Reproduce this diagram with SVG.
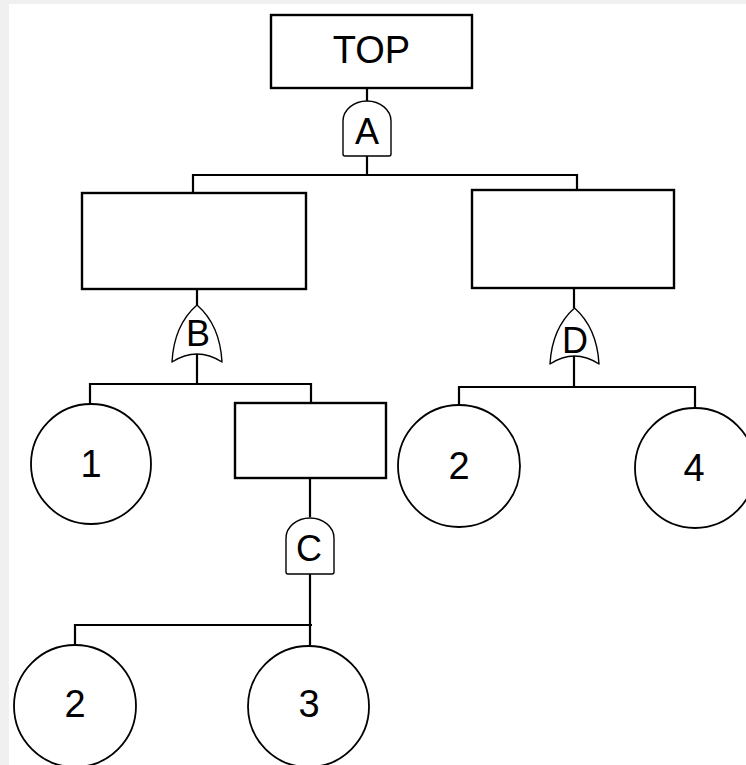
<svg xmlns="http://www.w3.org/2000/svg" width="746" height="765" viewBox="0 0 746 765">
  <style>
    .box { fill: #ffffff; stroke: #000000; stroke-width: 2.4; }
    .evt { fill: #ffffff; stroke: #000000; stroke-width: 1.8; }
    .gate { fill: #ffffff; stroke: #000000; stroke-width: 1.4; stroke-linejoin: round; }
    .wire { fill: none; stroke: #000000; stroke-width: 2.2; }
    .lbl { font-family: "Liberation Sans", Arial, sans-serif; font-size: 38px; fill: #000000; text-anchor: middle; }
    .glbl { font-family: "Liberation Sans", Arial, sans-serif; font-size: 36px; fill: #000000; text-anchor: middle; }
  </style>

  <!-- page background -->
  <rect x="0" y="0" width="746" height="765" fill="#f0f0f0"/>
  <rect x="9" y="4" width="737" height="761" fill="#ffffff"/>

  <!-- connectors -->
  <g id="connectors" class="wire">
    <path d="M367,88 V101"/>
    <path d="M367,156 V175"/>
    <path d="M193,192 V175 H577 V190"/>
    <path d="M197,289 V305"/>
    <path d="M197,354 V384"/>
    <path d="M90,404 V384 H311 V403"/>
    <path d="M574,288 V308"/>
    <path d="M574,356 V387"/>
    <path d="M459,406 V387 H695 V408"/>
    <path d="M310,478 V517"/>
    <path d="M310,574 V625"/>
    <path d="M75,645 V625 H312"/>
    <path d="M310,625 V646"/>
  </g>

  <!-- top event -->
  <g id="top">
    <rect class="box" x="271" y="15" width="201" height="73"/>
    <text class="lbl" x="371.5" y="63">TOP</text>
  </g>

  <!-- AND gate A -->
  <g id="gateA">
    <path class="gate" d="M343,154 V121 A24 20 0 0 1 391,121 V154 Q391,156 389,156 H345 Q343,156 343,154 Z"/>
    <text class="glbl" x="367" y="144">A</text>
  </g>

  <!-- intermediate events -->
  <g id="eventLeft">
    <rect class="box" x="82" y="193" width="224" height="96"/>
  </g>
  <g id="eventRight">
    <rect class="box" x="472" y="190" width="202" height="98"/>
  </g>

  <!-- OR gate B -->
  <g id="gateB">
    <path class="gate" d="M197,305 Q174,325 172,362 Q197,346 222,362 Q220,325 197,305 Z"/>
    <text class="glbl" x="198" y="346">B</text>
  </g>

  <!-- OR gate D -->
  <g id="gateD">
    <path class="gate" d="M574.5,308 Q552,328 550,364 Q574.5,348 599,364 Q597,328 574.5,308 Z"/>
    <text class="glbl" x="575" y="353">D</text>
  </g>

  <!-- basic events, second level -->
  <g id="event1">
    <circle class="evt" cx="91" cy="464" r="60"/>
    <text class="lbl" x="91" y="477">1</text>
  </g>
  <g id="eventMid">
    <rect class="box" x="235" y="403" width="151" height="75"/>
  </g>
  <g id="event2b">
    <circle class="evt" cx="459" cy="466" r="61"/>
    <text class="lbl" x="459" y="479">2</text>
  </g>
  <g id="event4">
    <circle class="evt" cx="695" cy="468" r="60"/>
    <text class="lbl" x="694" y="481">4</text>
  </g>

  <!-- AND gate C -->
  <g id="gateC">
    <path class="gate" d="M286,572 V538 A24 20 0 0 1 334,538 V572 Q334,574 332,574 H288 Q286,574 286,572 Z"/>
    <text class="glbl" x="309" y="561">C</text>
  </g>

  <!-- basic events, bottom level -->
  <g id="event2a">
    <circle class="evt" cx="75" cy="706" r="61"/>
    <text class="lbl" x="75" y="717">2</text>
  </g>
  <g id="event3">
    <circle class="evt" cx="308.5" cy="706.5" r="60.5"/>
    <text class="lbl" x="309" y="717">3</text>
  </g>
</svg>
